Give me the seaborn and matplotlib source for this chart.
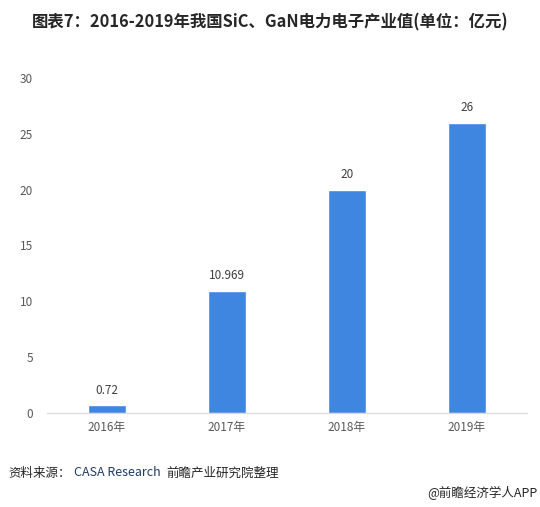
import pandas as pd
import matplotlib
matplotlib.use("Agg")
import matplotlib.pyplot as plt
import seaborn as sns

# data
years = ["2016年", "2017年", "2018年", "2019年"]
values = [0.72, 10.969, 20, 26]
value_labels = ["0.72", "10.969", "20", "26"]
y_ticks = [0, 5, 10, 15, 20, 25, 30]

sns.set_style("white")
plt.rcParams['font.family'] = ['Noto Sans CJK SC', 'DejaVu Sans']

df = pd.DataFrame({"year": years, "value": values})

fig = plt.figure(figsize=(5.4, 5.07), dpi=100)
ax = fig.add_axes([47 / 540, 1 - 413 / 507, 480 / 540, 335 / 507])

sns.barplot(data=df, x="year", y="value", color="#3f86e0", width=0.32,
            saturation=1, ax=ax)

for p, lab in zip(ax.patches, value_labels):
    ax.annotate(lab, (p.get_x() + p.get_width() / 2, p.get_height()),
                xytext=(0, 6), textcoords="offset points",
                ha="center", va="bottom", fontsize=8.5, color="#404040")

ax.set_ylim(0, 30)
ax.set_yticks(y_ticks)
ax.set_xlim(-0.5, 3.5)
ax.set_xlabel("")
ax.set_ylabel("")
ax.tick_params(axis="both", length=0, labelsize=8.5, labelcolor="#595959")
ax.tick_params(axis="y", pad=10)
ax.tick_params(axis="x", pad=6)
for s in ["top", "right", "left"]:
    ax.spines[s].set_visible(False)
ax.spines["bottom"].set_color("#d9d9d9")

fig.text(0.5, 1 - 22 / 507, "图表7：2016-2019年我国SiC、GaN电力电子产业值(单位：亿元)",
         ha="center", va="center", fontsize=11.8, fontweight="bold", color="#262626")

fig.text(8 / 540, 1 - 473 / 507, "资料来源：", ha="left", va="center",
         fontsize=9, color="#262626")
fig.text(74 / 540, 1 - 473 / 507, "CASA Research", ha="left", va="center",
         fontsize=9, color="#1f3b66")
fig.text(166 / 540, 1 - 473 / 507, "前瞻产业研究院整理", ha="left", va="center",
         fontsize=9, color="#262626")
fig.text(538 / 540, 1 - 493 / 507, "@前瞻经济学人APP", ha="right", va="center",
         fontsize=9, color="#262626")

fig.savefig("out.png", dpi=100)
